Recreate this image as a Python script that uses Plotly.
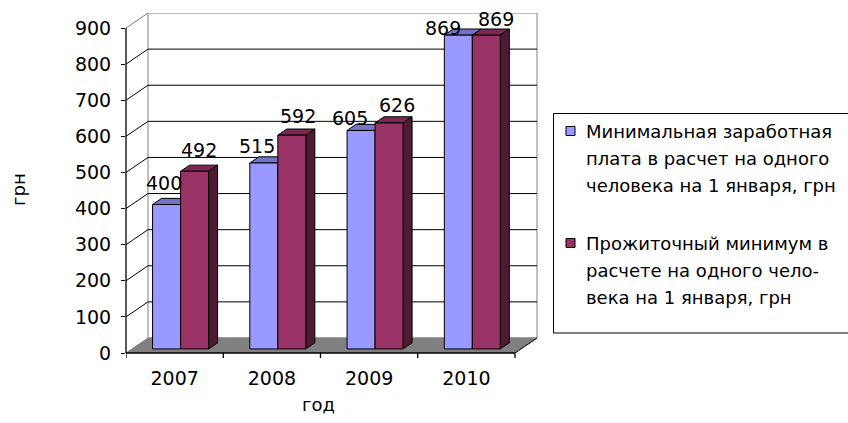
import plotly.graph_objects as go

# ---- data -------------------------------------------------------------
years = ["2007", "2008", "2009", "2010"]
min_wage = [400, 515, 605, 869]          # Минимальная заработная плата, грн
subsistence = [492, 592, 626, 869]      # Прожиточный минимум, грн
y_ticks = [0, 100, 200, 300, 400, 500, 600, 700, 800, 900]

name_wage = ["Минимальная заработная", "плата в расчет на одного",
             "человека на 1 января, грн"]
name_subs = ["Прожиточный минимум в", "расчете на одного чело-",
             "века на 1 января, грн"]

# ---- geometry (pixels of the plotting frame) -----------------------------
W_FIG, H_FIG = 848, 423
L, R, T, B = 126, 538, 13, 353           # plot area edges in px
PX_PER_CAT = 97.25                       # px per category on the front plane
PX_PER_UNIT = 0.36111                    # px per value unit
X0 = -0.5
X_MAX = X0 + (R - L) / PX_PER_CAT
Y_MAX = (B - T) / PX_PER_UNIT
YMAX_VAL = y_ticks[-1]

# depth vector from the front plane to the back wall, in data units
DX = 22 / PX_PER_CAT
DY = 15 / PX_PER_UNIT
F1, F2 = 0.27, 0.68                      # front/back of the bars along the depth
BAR_W = 28 / PX_PER_CAT

BLUE, BLUE_TOP = "#9999FF", "#7373C8"
RED, RED_TOP, RED_SIDE = "#993366", "#7A2952", "#4E1A34"
GREY = "#808080"
FONT = "DejaVu Sans"
FS = 19
FS_LEGEND = 18

n = len(years)
cx = list(range(n))
sx, sy = F1 * DX, F1 * DY                # offset of the bar front faces
ddx, ddy = (F2 - F1) * DX, (F2 - F1) * DY

fig = go.Figure()

shapes = []
# back wall
shapes.append(dict(type="rect", xref="x", yref="y", layer="below",
                   x0=X0 + DX, x1=X0 + n + DX, y0=DY, y1=YMAX_VAL + DY,
                   fillcolor="white", line=dict(color=GREY, width=1)))
# back wall gridlines and side-wall depth lines
for v in y_ticks[1:]:
    col = GREY if v == YMAX_VAL else "black"
    if v != YMAX_VAL:
        shapes.append(dict(type="line", xref="x", yref="y", layer="below",
                           x0=X0 + DX, x1=X0 + n + DX, y0=v + DY, y1=v + DY,
                           line=dict(color="black", width=1)))
    shapes.append(dict(type="line", xref="x", yref="y", layer="below",
                       x0=X0, x1=X0 + DX, y0=v, y1=v + DY,
                       line=dict(color=col, width=1)))
# floor
shapes.append(dict(type="path", xref="x", yref="y", layer="below",
                   path=f"M{X0},0 L{X0 + n},0 L{X0 + n + DX},{DY} L{X0 + DX},{DY} Z",
                   fillcolor=GREY, line=dict(color=GREY, width=1)))
shapes.append(dict(type="line", xref="x", yref="y", layer="below",
                   x0=X0 + n, x1=X0 + n + DX, y0=0, y1=DY,
                   line=dict(color="black", width=1)))


def box_faces(xl, top, base, top_col, side_col, side=True):
    xr = xl + BAR_W
    out = [dict(type="path", xref="x", yref="y", layer="below",
                path=(f"M{xl},{top} L{xr},{top} L{xr + ddx},{top + ddy} "
                      f"L{xl + ddx},{top + ddy} Z"),
                fillcolor=top_col, line=dict(color="black", width=1))]
    if side:
        out.append(dict(type="path", xref="x", yref="y", layer="below",
                        path=(f"M{xr},{base} L{xr},{top} L{xr + ddx},{top + ddy} "
                              f"L{xr + ddx},{base + ddy} Z"),
                        fillcolor=side_col, line=dict(color="black", width=1)))
    return out


for i in range(n):
    xl_b = cx[i] - BAR_W + sx
    xl_r = cx[i] + sx
    shapes += box_faces(xl_b, min_wage[i] + sy, sy, BLUE_TOP, None, side=False)
    shapes += box_faces(xl_r, subsistence[i] + sy, sy, RED_TOP, RED_SIDE)

# front axis lines and category boundary ticks
shapes.append(dict(type="line", xref="paper", yref="y", x0=0, x1=0,
                   y0=0, y1=YMAX_VAL, line=dict(color="black", width=1.3)))
shapes.append(dict(type="line", xref="x", yref="paper", x0=X0, x1=X0 + n,
                   y0=0, y1=0, line=dict(color="black", width=1.3)))
for k in range(n + 1):
    shapes.append(dict(type="line", xref="x", yref="paper", x0=X0 + k, x1=X0 + k,
                       y0=0, y1=-5 / (B - T), line=dict(color="black", width=1.3)))

# bar front faces
fig.add_trace(go.Bar(x=cx, y=min_wage, base=[sy] * n, width=BAR_W,
                     offset=-BAR_W + sx, marker=dict(color=BLUE,
                     line=dict(color="black", width=1)),
                     name=" ".join(name_wage), showlegend=False,
                     hoverinfo="y"))
fig.add_trace(go.Bar(x=cx, y=subsistence, base=[sy] * n, width=BAR_W,
                     offset=sx, marker=dict(color=RED,
                     line=dict(color="black", width=1)),
                     name=" ".join(name_subs), showlegend=False,
                     hoverinfo="y"))

annotations = []
# value labels
for i in range(n):
    annotations.append(dict(x=cx[i] - BAR_W / 2 + sx, y=min_wage[i] + sy,
                            xref="x", yref="y", text=str(min_wage[i]),
                            showarrow=False, xshift=-3 - 4 * i,
                            yshift=22 - 4.8 * i,
                            xanchor="center", yanchor="middle",
                            font=dict(family=FONT, size=FS, color="black")))
    annotations.append(dict(x=cx[i] + BAR_W / 2 + sx, y=subsistence[i] + sy,
                            xref="x", yref="y", text=str(subsistence[i]),
                            showarrow=False, xshift=4 + 2 * i,
                            yshift=21 - 1.5 * i,
                            xanchor="center", yanchor="middle",
                            font=dict(family=FONT, size=FS, color="black")))


def px_x(p):
    return (p - L) / (R - L)


def px_y(p):
    return (B - p) / (B - T)


# axis titles
annotations.append(dict(x=px_x(19), y=px_y(190), xref="paper", yref="paper",
                        text="грн", textangle=-90, showarrow=False,
                        xanchor="center", yanchor="middle",
                        font=dict(family=FONT, size=FS - 1, color="black")))
annotations.append(dict(x=px_x(318), y=px_y(405), xref="paper", yref="paper",
                        text="год", showarrow=False,
                        xanchor="center", yanchor="middle",
                        font=dict(family=FONT, size=FS - 1, color="black")))

# legend box, keys and wrapped entry text
shapes.append(dict(type="rect", xref="paper", yref="paper",
                   x0=px_x(553.5), x1=px_x(852), y0=px_y(113.5), y1=px_y(333),
                   fillcolor="white", line=dict(color="black", width=1)))
LINE_H = 27
for lines, col, y_first in ((name_wage, BLUE, 131), (name_subs, RED, 243)):
    shapes.append(dict(type="rect", xref="paper", yref="paper",
                       x0=px_x(566), x1=px_x(575), y0=px_y(y_first - 4.5),
                       y1=px_y(y_first + 4.5), fillcolor=col,
                       line=dict(color="black", width=1)))
    for j, t in enumerate(lines):
        annotations.append(dict(x=px_x(584), y=px_y(y_first + j * LINE_H),
                                xref="paper", yref="paper", text=t,
                                xanchor="left", yanchor="middle",
                                showarrow=False,
                                font=dict(family=FONT, size=FS_LEGEND,
                                          color="black")))

fig.update_layout(
    width=W_FIG, height=H_FIG,
    margin=dict(l=L, r=W_FIG - R, t=T, b=H_FIG - B, pad=0),
    paper_bgcolor="white", plot_bgcolor="white",
    barmode="overlay", showlegend=False,
    shapes=shapes, annotations=annotations,
    xaxis=dict(range=[X0, X_MAX], tickvals=cx, ticktext=years,
               showgrid=False, zeroline=False, showline=False, ticks="",
               ticklabelstandoff=12,
               tickfont=dict(family=FONT, size=FS, color="black")),
    yaxis=dict(range=[0, Y_MAX], tickvals=y_ticks, showgrid=False,
               zeroline=False, showline=False, ticks="outside", ticklen=4,
               tickcolor="black", tickwidth=1.3, ticklabelstandoff=6,
               tickfont=dict(family=FONT, size=FS, color="black")),
)

fig.write_html("out.html")
